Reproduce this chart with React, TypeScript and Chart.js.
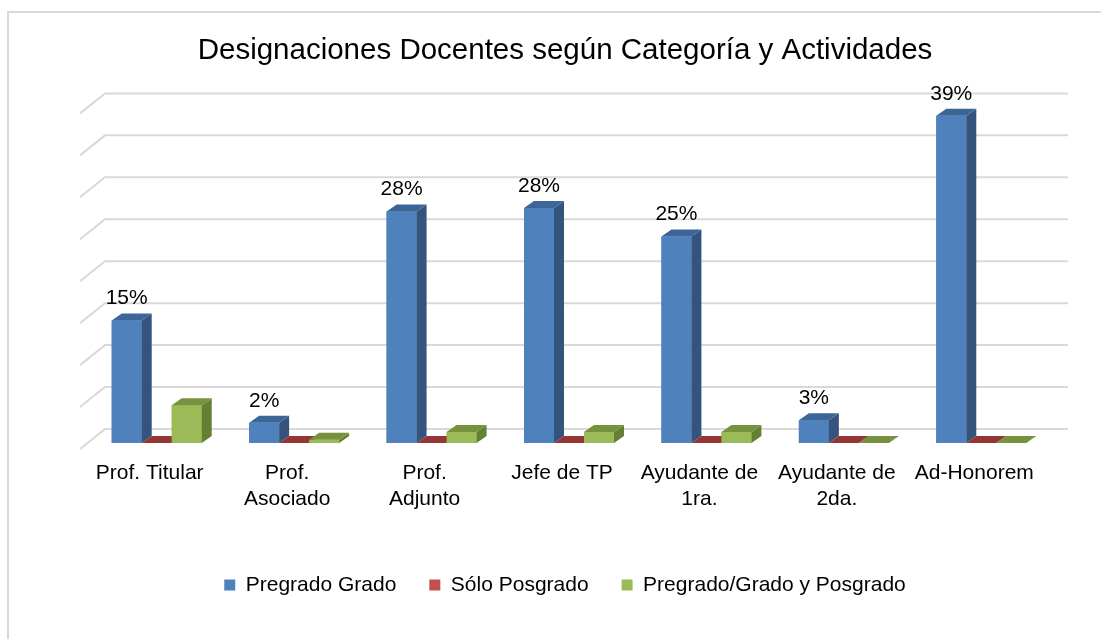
import React, { useEffect, useRef } from "react";
import { Chart, registerables } from "chart.js";

Chart.register(...registerables);

const categories: (string | string[])[] = [
  "Prof. Titular",
  ["Prof.", "Asociado"],
  ["Prof.", "Adjunto"],
  "Jefe de TP",
  ["Ayudante de", "1ra."],
  ["Ayudante de", "2da."],
  "Ad-Honorem",
];
const pregradoGrado = [14.6, 2.4, 27.6, 28.0, 24.6, 2.7, 39.0];
const soloPosgrado = [0, 0, 0, 0, 0, 0, 0];
const pregradoGradoPosgrado = [4.5, 0.4, 1.3, 1.3, 1.3, 0, 0];
const seriesNames = ["Pregrado Grado", "Sólo Posgrado", "Pregrado/Grado y Posgrado"];
const titleText = "Designaciones Docentes según Categoría y Actividades";
const yMin = 0;
const yMax = 40;
const yStep = 5;

const FONT = "'Liberation Sans', Arial, sans-serif";
const frontColors = ["#4f81bd", "#c0504d", "#9bbb59"];
const topColors = ["#3b6697", "#943634", "#76923c"];
const sideColors = ["#34547e", "#7a2c2a", "#657f34"];
const DX = 10;
const DY = -7;

const depthPlugin = {
  id: "depth3d",
  beforeDatasetsDraw(chart: any) {
    const { ctx, chartArea } = chart;
    const ys = chart.scales.y;
    ctx.save();
    ctx.strokeStyle = "#d9d9d9";
    ctx.lineWidth = 2;
    ys.ticks.forEach((t: any) => {
      const y0 = ys.getPixelForValue(t.value);
      ctx.beginPath();
      ctx.moveTo(chartArea.left - 8, y0 + 6);
      ctx.lineTo(chartArea.left + 17, y0 - 14);
      ctx.lineTo(chartArea.right + 18, y0 - 14);
      ctx.stroke();
    });
    ctx.restore();
  },
  afterDatasetsDraw(chart: any) {
    const { ctx } = chart;
    const n = chart.data.labels.length;
    ctx.save();
    for (let i = 0; i < n; i++) {
      chart.data.datasets.forEach((ds: any, d: number) => {
        const el = chart.getDatasetMeta(d).data[i];
        if (!el) return;
        const { x, y, base, width } = el.getProps(["x", "y", "base", "width"], true);
        const x1 = x - width / 2;
        const x2 = x + width / 2;
        const h = base - y;
        if (h > 0) {
          ctx.fillStyle = frontColors[d];
          ctx.fillRect(x1, y, width, h);
          ctx.fillStyle = sideColors[d];
          ctx.beginPath();
          ctx.moveTo(x2, y);
          ctx.lineTo(x2 + DX, y + DY);
          ctx.lineTo(x2 + DX, base + DY);
          ctx.lineTo(x2, base);
          ctx.closePath();
          ctx.fill();
        }
        ctx.fillStyle = topColors[d];
        ctx.beginPath();
        ctx.moveTo(x1, y);
        ctx.lineTo(x2, y);
        ctx.lineTo(x2 + DX, y + DY);
        ctx.lineTo(x1 + DX, y + DY);
        ctx.closePath();
        ctx.fill();
      });
    }
    // data labels for first series
    const meta = chart.getDatasetMeta(0);
    ctx.fillStyle = "#000";
    ctx.font = `21px ${FONT}`;
    ctx.textAlign = "center";
    ctx.textBaseline = "middle";
    meta.data.forEach((el: any, i: number) => {
      const v = chart.data.datasets[0].data[i];
      const { x, y } = el.getProps(["x", "y"], true);
      ctx.fillText(`${Math.round(v)}%`, x, y - 22);
    });
    ctx.restore();
  },
};

export default function App() {
  const ref = useRef<HTMLCanvasElement>(null);
  useEffect(() => {
    if (!ref.current) return;
    Chart.defaults.font.family = FONT;
    Chart.defaults.color = "#000";
    const chart = new Chart(ref.current, {
      type: "bar",
      data: {
        labels: categories,
        datasets: [
          { label: seriesNames[0], data: pregradoGrado, backgroundColor: frontColors[0], borderWidth: 0 },
          { label: seriesNames[1], data: soloPosgrado, backgroundColor: frontColors[1], borderWidth: 0 },
          { label: seriesNames[2], data: pregradoGradoPosgrado, backgroundColor: frontColors[2], borderWidth: 0 },
        ],
      },
      options: {
        animation: false,
        responsive: false,
        maintainAspectRatio: false,
        events: [],
        layout: { padding: { left: 80, right: 51, top: 0, bottom: 33.5 } },
        datasets: { bar: { categoryPercentage: 0.655, barPercentage: 1 } },
        scales: {
          x: {
            grid: { display: false, drawTicks: false },
            border: { display: false },
            ticks: {
              font: { size: 21 },
              color: "#000",
              padding: 18,
              labelOffset: -7,
              maxRotation: 0,
              autoSkip: false,
            },
            afterFit: (s: any) => {
              s.height = 98.5;
            },
          },
          y: {
            min: yMin,
            max: yMax,
            ticks: { stepSize: yStep, display: false },
            grid: { display: false, drawTicks: false },
            border: { display: false },
            afterFit: (s: any) => {
              s.width = 8;
            },
          },
        },
        plugins: {
          title: {
            display: true,
            text: titleText,
            color: "#000",
            font: { size: 29.5, weight: "normal" },
            padding: { top: 33, bottom: 39 },
          },
          legend: {
            position: "bottom",
            labels: {
              boxWidth: 11,
              boxHeight: 11,
              padding: 33,
              color: "#000",
              font: { size: 21 },
            },
          },
          tooltip: { enabled: false },
        },
      },
      plugins: [depthPlugin],
    });
    return () => chart.destroy();
  }, []);

  return (
    <div
      style={{
        position: "fixed",
        left: 0,
        top: 0,
        width: 1101,
        height: 639,
        overflow: "hidden",
        background: "#fff",
      }}
    >
      <div
        style={{
          position: "absolute",
          left: 7,
          top: 11,
          width: 1300,
          height: 900,
          border: "2px solid #d9d9d9",
        }}
      />
      <canvas
        ref={ref}
        width={1101}
        height={639}
        style={{ position: "absolute", left: 0, top: 0, width: 1101, height: 639 }}
      />
    </div>
  );
}
